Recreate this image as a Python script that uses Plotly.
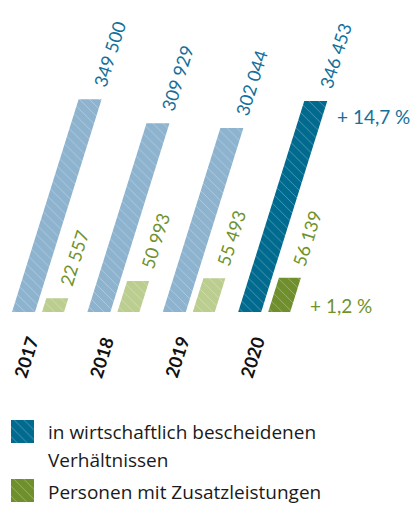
import plotly.graph_objects as go

# ---- data ----
years = ["2017", "2018", "2019", "2020"]
bescheiden = [349500, 309929, 302044, 346453]
zusatz = [22557, 50993, 55493, 56139]
labels_bescheiden = ["349 500", "309 929", "302 044", "346 453"]
labels_zusatz = ["22 557", "50 993", "55 493", "56 139"]
change_bescheiden = "+ 14,7 %"
change_zusatz = "+ 1,2 %"
legend_names = ["in wirtschaftlich bescheidenen", "Verhältnissen", "Personen mit Zusatzleistungen"]

# ---- geometry / style ----
W, H = 413, 505
BASE = 312          # pixel row of the zero line
U = 1642.0          # value units per pixel
SLANT = 0.313       # horizontal shift per vertical pixel
GROUP0, GROUP_STEP = 12.0, 75.4
W_B, GAP, W_Z = 23.0, 30.0, 22.0

LIGHT_BLUE, DARK_BLUE = "#8db3cf", "#006a8f"
LIGHT_GREEN, DARK_GREEN = "#bbcd8f", "#6e8f2b"
TXT_BLUE, TXT_GREEN = "#13709a", "#6f922a"
FONT = "Open Sans"
NUM_FONT = "Lato"


def poly(x0, w, v):
    s = v / U * SLANT
    return [x0, x0 + w, x0 + w + s, x0 + s, x0, None], [0, 0, v, v, 0, None]


def pat(color):
    return dict(shape="\\", size=7, solidity=0.14, fgcolor="white", fgopacity=0.3, bgcolor=color)


fig = go.Figure()

groups = {"lb": ([], []), "db": ([], []), "lg": ([], []), "dg": ([], [])}
annotations = []
for i, yr in enumerate(years):
    x0 = GROUP0 + GROUP_STEP * i
    last = i == len(years) - 1
    xb, yb = poly(x0, W_B, bescheiden[i])
    xz, yz = poly(x0 + GAP, W_Z, zusatz[i])
    kb, kz = ("db", "dg") if last else ("lb", "lg")
    groups[kb][0].extend(xb); groups[kb][1].extend(yb)
    groups[kz][0].extend(xz); groups[kz][1].extend(yz)

    tr_b = x0 + W_B + bescheiden[i] / U * SLANT
    tr_z = x0 + GAP + W_Z + zusatz[i] / U * SLANT
    annotations.append(dict(x=tr_b, y=bescheiden[i], text=labels_bescheiden[i], textangle=-72.5,
                            xshift=8, yshift=45, xanchor="center", yanchor="middle",
                            font=dict(color=TXT_BLUE, size=18, family=NUM_FONT)))
    annotations.append(dict(x=tr_z, y=zusatz[i], text=labels_zusatz[i], textangle=-72.5,
                            xshift=6, yshift=40, xanchor="center", yanchor="middle",
                            font=dict(color=TXT_GREEN, size=18, family=NUM_FONT)))
    annotations.append(dict(x=x0 + 14, y=-45 * U, text="<b>" + yr + "</b>", textangle=-72.5,
                            xanchor="center", yanchor="middle",
                            font=dict(color="#111111", size=18, family=NUM_FONT)))
    if last:
        annotations.append(dict(x=tr_b, y=bescheiden[i], text=change_bescheiden, xshift=8, yshift=-15,
                                xanchor="left", yanchor="middle",
                                font=dict(color=TXT_BLUE, size=19, family=NUM_FONT)))
        annotations.append(dict(x=x0 + GAP + W_Z, y=0, text=change_zusatz, xshift=18, yshift=7,
                                xanchor="left", yanchor="middle",
                                font=dict(color=TXT_GREEN, size=19, family=NUM_FONT)))

colors = {"lb": LIGHT_BLUE, "db": DARK_BLUE, "lg": LIGHT_GREEN, "dg": DARK_GREEN}
for k, (xs, ys) in groups.items():
    fig.add_trace(go.Scatter(x=xs, y=ys, mode="lines", fill="toself", fillcolor=colors[k],
                             fillpattern=pat(colors[k]), line=dict(width=0, color=colors[k]),
                             hoverinfo="skip", showlegend=False))

# legend swatches (in pixel-equivalent units)
def px_y(p):
    return (BASE - p) * U

for (top, bot), col in [((420, 443), DARK_BLUE), ((479, 502), DARK_GREEN)]:
    fig.add_trace(go.Scatter(x=[11, 34, 34, 11, 11], y=[px_y(bot), px_y(bot), px_y(top), px_y(top), px_y(bot)],
                             mode="lines", fill="toself", fillcolor=col, fillpattern=pat(col),
                             line=dict(width=0, color=col), hoverinfo="skip", showlegend=False))

for name, py in zip(legend_names, [432, 460, 492]):
    annotations.append(dict(x=47, y=px_y(py), text=name, xanchor="left", yanchor="middle",
                            borderpad=0, font=dict(color="#1a1a1a", size=19, family=FONT)))

for a in annotations:
    a.update(showarrow=False, xref="x", yref="y")

fig.update_layout(
    width=W, height=H, margin=dict(l=0, r=0, t=0, b=0),
    paper_bgcolor="white", plot_bgcolor="white",
    xaxis=dict(range=[0, W], visible=False, fixedrange=True),
    yaxis=dict(range=[-(H - BASE) * U, BASE * U], visible=False, fixedrange=True),
    annotations=annotations, showlegend=False,
)

fig.write_html("out.html", config={"displayModeBar": False},
               post_script="document.body.style.margin='0';document.body.style.overflow='hidden';")
